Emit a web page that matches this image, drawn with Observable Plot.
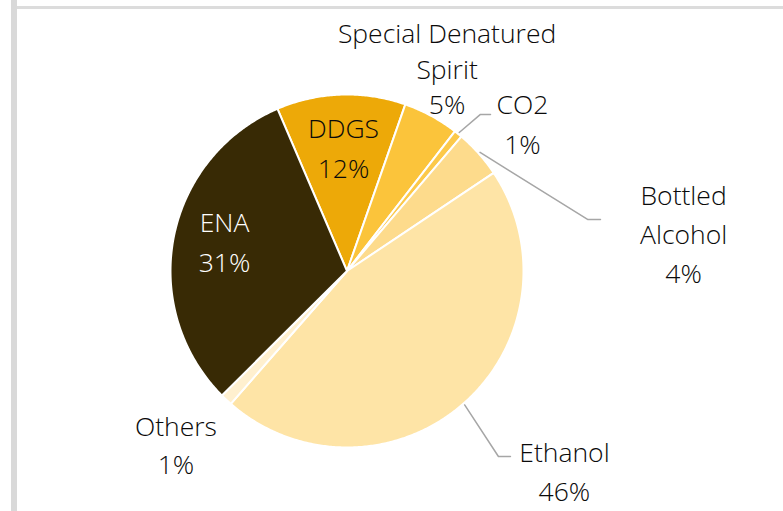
<!DOCTYPE html>
<html><head><meta charset="utf-8">
<script src="https://cdn.jsdelivr.net/npm/d3@7"></script>
<script src="https://cdn.jsdelivr.net/npm/@observablehq/plot@0.6"></script>
<style>
body{margin:0;background:#fff;}
#wrap{position:relative;width:783px;height:511px;overflow:hidden;background:#fff}
#lb{position:absolute;left:11px;top:0;width:6px;height:511px;background:#d9d9d9}
#tb{position:absolute;left:17px;top:6px;right:0;height:3px;background:#dcdcdc}
#chart{position:absolute;left:0;top:0}
</style></head><body><div id="wrap"><div id="lb"></div><div id="tb"></div><div id="chart"></div></div>
<script>
// ---- data ----
const categories = ["DDGS", "Special Denatured Spirit", "CO2", "Bottled Alcohol", "Ethanol", "Others", "ENA"];
const shares = [11.8, 5.1, 0.75, 4.4, 45.8, 1.1, 31.0];
const sliceColors = ["#eda908", "#fbc43b", "#fcc94a", "#fddb8c", "#fee4a6", "#fff0cf", "#382a05"];
const labelText = ["DDGS", "Special Denatured\nSpirit", "CO2", "Bottled\nAlcohol", "Ethanol", "Others", "ENA"];

// ---- layout (unit-circle coordinates) ----
const startAngleDeg = -23.2;
const labelPos = [
  [-0.020, 0.802, 0.227],
  [0.567, 1.338, 0.201],
  [0.994, 0.939, 0.227],
  [1.907, 0.424, 0.223],
  [1.232, -1.036, 0.217],
  [-0.969, -0.885, 0.217],
  [-0.694, 0.271, 0.227]
];
const leaders = { // elbow, end
  "CO2": [[0.756, 0.887], [0.813, 0.887]],
  "Bottled Alcohol": [[1.363, 0.292], [1.436, 0.292]],
  "Ethanol": [[0.858, -1.051], [0.926, -1.051]]
};

const total = d3.sum(shares);
const rad = Math.PI / 180;
let a = startAngleDeg * rad;
const arcPts = [], mids = {};
categories.forEach((cat, i) => {
  const span = shares[i] / total * 2 * Math.PI;
  const a0 = a, a1 = a + span;
  arcPts.push({cat, x: 0, y: 0});
  const n = Math.max(2, Math.ceil(span / (0.5 * rad)));
  for (let k = 0; k <= n; k++) {
    const t = a0 + (a1 - a0) * k / n;
    arcPts.push({cat, x: Math.sin(t), y: Math.cos(t)});
  }
  mids[cat] = (a0 + a1) / 2;
  a = a1;
});

const leaderPts = [];
Object.entries(leaders).forEach(([cat, pts]) => {
  const m = mids[cat];
  leaderPts.push({cat, x: 1.01 * Math.sin(m), y: 1.01 * Math.cos(m)});
  pts.forEach(p => leaderPts.push({cat, x: p[0], y: p[1]}));
});

const textRows = [];
categories.forEach((cat, i) => {
  const pct = Math.round(shares[i] / total * 100) + "%";
  const lines = (labelText[i] + "\n" + pct).split("\n");
  const [lx, ly, gap] = labelPos[i];
  lines.forEach((t, j) => textRows.push({cat, x: lx, y: ly - j * gap, text: t, dark: cat === "ENA"}));
});

const plot = Plot.plot({
  width: 783, height: 511, margin: 0,
  x: {domain: [-1, 1], range: [170, 523], axis: null},
  y: {domain: [-1, 1], range: [447, 94], axis: null},
  color: {domain: categories, range: sliceColors},
  style: {fontFamily: "'Open Sans', sans-serif", background: "transparent", overflow: "visible"},
  marks: [
    Plot.line(arcPts, {x: "x", y: "y", z: "cat", fill: "cat", stroke: "white", strokeWidth: 2, strokeLinejoin: "round", curve: "linear-closed"}),
    Plot.line(leaderPts, {x: "x", y: "y", z: "cat", stroke: "#a6a6a6", strokeWidth: 1.5}),
    Plot.text(textRows.filter(d => !d.dark), {x: "x", y: "y", text: "text", fill: "#0a0a0a", fontSize: 26.5, fontWeight: 300, textAnchor: "middle", lineAnchor: "middle"}),
    Plot.text(textRows.filter(d => d.dark), {x: "x", y: "y", text: "text", fill: "white", fontSize: 26.5, fontWeight: 300, textAnchor: "middle", lineAnchor: "middle"})
  ]
});
document.getElementById("chart").appendChild(plot);
</script></body></html>
